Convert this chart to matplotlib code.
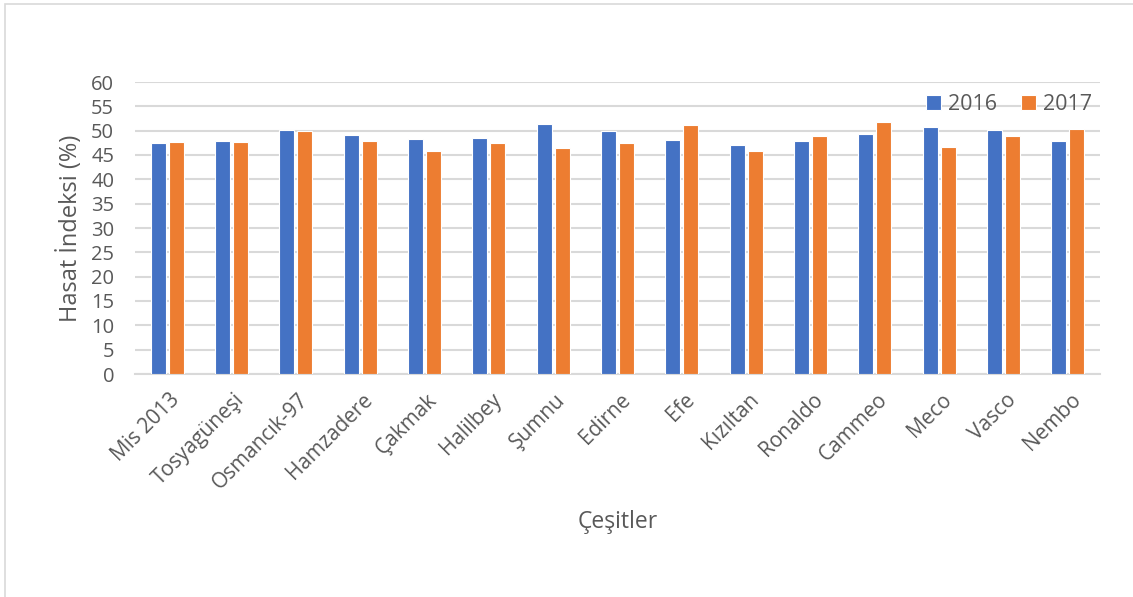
import matplotlib
matplotlib.use("Agg")
import matplotlib.pyplot as plt
import matplotlib.patches as mpatches
import matplotlib.transforms as mtransforms
import numpy as np

# Harvest index of rice varieties in two seasons
varieties = ["Mis 2013", "Tosyagüneşi", "Osmancık-97", "Hamzadere", "Çakmak",
             "Halilbey", "Şumnu", "Edirne", "Efe", "Kızıltan", "Ronaldo",
             "Cammeo", "Meco", "Vasco", "Nembo"]
hi_2016 = [47.4, 47.9, 50.2, 49.2, 48.3, 48.4, 51.3, 49.9, 48.1, 47.1, 47.9,
           49.4, 50.7, 50.2, 47.9]
hi_2017 = [47.6, 47.7, 49.9, 47.9, 45.9, 47.5, 46.5, 47.4, 51.2, 45.9, 49.0,
           51.7, 46.7, 48.9, 50.4]
series_labels = ["2016", "2017"]
y_ticks = list(range(0, 61, 5))

plt.rcParams["font.family"] = ["Open Sans", "DejaVu Sans"]
text_color = "#595959"
grid_color = "#D9D9D9"
blue = "#4472C4"
orange = "#ED7D31"

W, H = 1133, 597
fig = plt.figure(figsize=(W / 100, H / 100), dpi=100)

# chart area frame (left and top edges visible)
fig.patches.append(mpatches.Rectangle((5 / W, -0.1), 1.2, 1 - 4 / H + 0.1,
                                      transform=fig.transFigure, fill=False,
                                      edgecolor=grid_color, linewidth=1.2))

ax = fig.add_axes([135 / W, 1 - 374 / H, (1100 - 135) / W, (374 - 82) / H])

x = np.arange(len(varieties))
bw = 0.23
gap = 0.05
off = (bw + gap) / 2
ax.bar(x - off, hi_2016, width=bw, color=blue, edgecolor="white",
       linewidth=0.8, label=series_labels[0], zorder=3)
ax.bar(x + off, hi_2017, width=bw, color=orange, edgecolor="white",
       linewidth=0.8, label=series_labels[1], zorder=3)

ax.set_xlim(-0.5, len(varieties) - 0.5)
ax.set_ylim(0, 60)
ax.set_yticks(y_ticks)
ax.yaxis.grid(True, color=grid_color, linewidth=1.5, zorder=0)
ax.set_axisbelow(True)
for s in ["top", "right", "left"]:
    ax.spines[s].set_visible(False)
ax.spines["bottom"].set_color(grid_color)
ax.spines["bottom"].set_linewidth(1.5)
ax.tick_params(axis="both", length=0, colors=text_color)
ax.tick_params(axis="y", pad=15, labelsize=14.5)

ax.set_xticks(x)
ax.set_xticklabels(varieties, rotation=45, ha="right", va="top",
                   rotation_mode="anchor", color=text_color, fontsize=15)
ax.tick_params(axis="x", pad=11)
shift = mtransforms.ScaledTranslation(0.02, 0, fig.dpi_scale_trans)
for lbl in ax.get_xticklabels():
    lbl.set_transform(lbl.get_transform() + shift)

ax.set_ylabel("Hasat İndeksi (%)", color=text_color, fontsize=17, labelpad=6)
ax.set_xlabel("Çeşitler", color=text_color, fontsize=16.5, labelpad=12)

leg = ax.legend(loc="upper right", bbox_to_anchor=(1.004, 1.0), ncol=2,
                frameon=False, fontsize=15.5, handlelength=0.7,
                handleheight=0.7, handletextpad=0.3, columnspacing=1.15,
                borderaxespad=0.15)
for t in leg.get_texts():
    t.set_color(text_color)

fig.savefig("out.png", dpi=100, facecolor="white")
